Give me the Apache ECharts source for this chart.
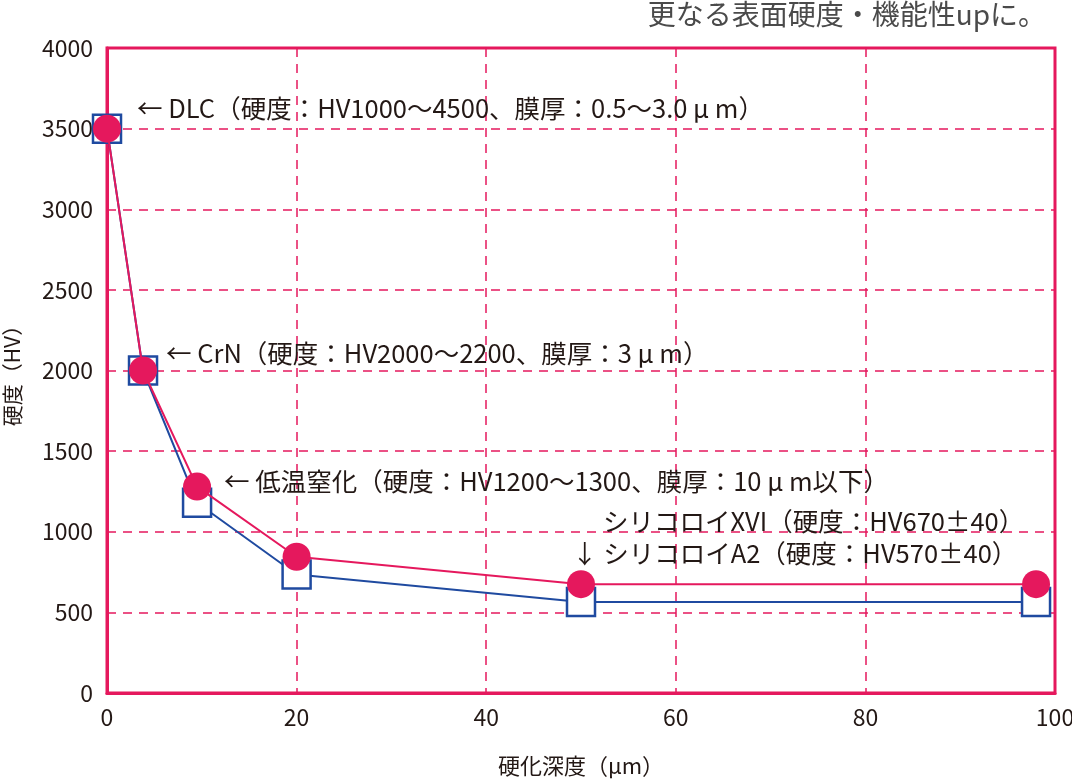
<!DOCTYPE html>
<html>
<head>
<meta charset="utf-8">
<script src="https://cdn.jsdelivr.net/npm/echarts@6/dist/echarts.min.js"></script>
<style>
  html, body { margin: 0; padding: 0; background: #fff; }
  #chart { width: 1072px; height: 781px; }
</style>
</head>
<body>
<div id="chart"></div>
<script>
// depth (µm) vs hardness (HV)
const depthPink = [0, 3.8, 9.5, 20, 50, 98];
const hardPink = [3500, 2000, 1280, 845, 675, 675];
const depthBlue = [0, 3.8, 9.5, 20, 50, 98];
const hardBlue = [3500, 2000, 1180, 735, 565, 565];

const pink = '#e5185d';
const blue = '#1f4aa0';
const ink = '#231815';
const font = '"Noto Sans CJK JP", "Noto Sans", sans-serif';

const notes = [
  { text: '← DLC（硬度：HV1000～4500、膜厚：0.5～3.0 μ m）', x: 137, y: 108 },
  { text: '← CrN（硬度：HV2000～2200、膜厚：3 μ m）', x: 166, y: 353 },
  { text: '← 低温窒化（硬度：HV1200～1300、膜厚：10 μ m以下）', x: 224, y: 481 },
  { text: 'シリコロイXVI（硬度：HV670±40）', x: 603, y: 521 },
  { text: '↓ シリコロイA2（硬度：HV570±40）', x: 572, y: 553 }
];

const zip = (xs, ys) => xs.map((x, i) => [x, ys[i]]);

const chart = echarts.init(document.getElementById('chart'), null, { renderer: 'canvas' });

chart.setOption({
  backgroundColor: '#fff',
  animation: false,
  grid: {
    left: 107, right: 17, top: 48, bottom: 88,
    outerBoundsMode: 'none', containLabel: false,
    show: true, borderColor: pink, borderWidth: 3, backgroundColor: 'transparent'
  },
  xAxis: {
    type: 'value', min: 0, max: 100, interval: 20,
    name: '硬化深度（μm）', nameLocation: 'middle', nameGap: 62,
    nameTextStyle: { color: ink, fontSize: 22, fontFamily: font },
    axisLine: { show: true, lineStyle: { color: pink, width: 3 } },
    axisTick: { show: false },
    axisLabel: { color: ink, fontSize: 23, fontFamily: font, margin: 13, formatter: v => String(v) },
    splitLine: { show: true, lineStyle: { color: pink, width: 1.5, type: [9, 7] } }
  },
  yAxis: {
    type: 'value', min: 0, max: 4000, interval: 500,
    name: '硬度（HV）', nameLocation: 'middle', nameGap: 84, nameRotate: 90,
    nameTextStyle: { color: ink, fontSize: 21, fontFamily: font },
    axisLine: { show: true, lineStyle: { color: pink, width: 3 } },
    axisTick: { show: false },
    axisLabel: { color: ink, fontSize: 23, fontFamily: font, margin: 14, formatter: v => String(v) },
    splitLine: { show: true, lineStyle: { color: pink, width: 1.5, type: [9, 7] } }
  },
  series: [
    {
      type: 'line', data: zip(depthBlue, hardBlue),
      symbol: 'rect', symbolSize: 28,
      lineStyle: { color: blue, width: 2 },
      itemStyle: { color: '#fff', borderColor: blue, borderWidth: 2.5 },
      z: 3
    },
    {
      type: 'line', data: zip(depthPink, hardPink),
      symbol: 'circle', symbolSize: 28,
      lineStyle: { color: pink, width: 2 },
      itemStyle: { color: pink, borderWidth: 0 },
      z: 4
    }
  ],
  graphic: [
    {
      type: 'text', right: 26, top: 0,
      style: { text: '更なる表面硬度・機能性upに。', fill: '#4a4a4a', font: '28px ' + font }
    }
  ].concat(notes.map(n => ({
    type: 'text', x: n.x, y: n.y, z: 10,
    style: { text: n.text, fill: ink, font: '25.5px ' + font, verticalAlign: 'middle' }
  })))
});
</script>
</body>
</html>
